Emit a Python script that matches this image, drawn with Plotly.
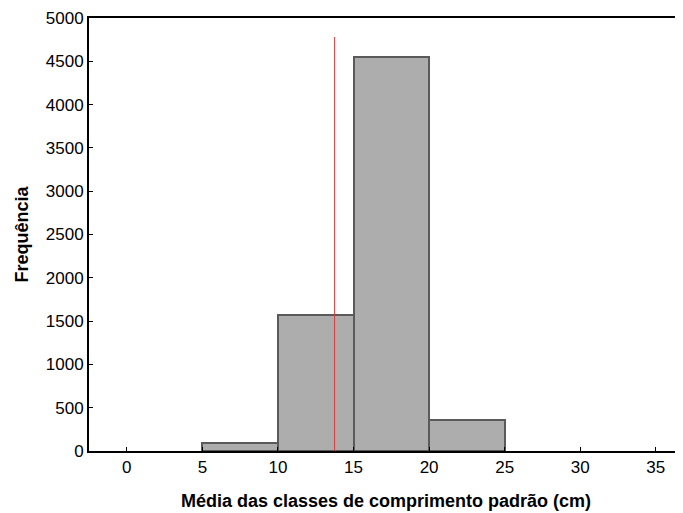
import plotly.graph_objects as go

bin_left = [5, 10, 15, 20]
bin_width = [5, 5, 5, 5]
frequencies = [95, 1575, 4545, 358]
mean_value = 13.75
mean_line_top = 4780
x_ticks = [0, 5, 10, 15, 20, 25, 30, 35]
y_ticks = [0, 500, 1000, 1500, 2000, 2500, 3000, 3500, 4000, 4500, 5000]

centers = [l + w / 2 for l, w in zip(bin_left, bin_width)]

fig = go.Figure()
fig.add_trace(go.Bar(
    x=centers, y=frequencies, width=bin_width,
    marker=dict(color="#adadad", line=dict(color="#5a5a5a", width=2)),
    showlegend=False, hoverinfo="x+y",
))
fig.add_trace(go.Scatter(
    x=[mean_value, mean_value], y=[0, mean_line_top], mode="lines",
    line=dict(color="#e03535", width=1), showlegend=False,
))

font = "Liberation Sans, Arial, sans-serif"
# page body has an 8px default margin, so the figure is offset by (8, 8)
fig.update_layout(
    width=675, height=505,
    margin=dict(l=81, r=0, t=10, b=62),
    paper_bgcolor="white", plot_bgcolor="white",
    font=dict(family=font, size=17, color="black"),
    bargap=0,
    xaxis=dict(
        range=[-2.5, 36.8], tickvals=x_ticks, ticks="inside", ticklen=4,
        tickcolor="black", showline=True, linecolor="black", linewidth=2,
        mirror=True, showgrid=False, zeroline=False, automargin=False,
        tickfont=dict(size=17),
        title=dict(text="<b>Média das classes de comprimento padrão (cm)</b>",
                   font=dict(size=18), standoff=18),
    ),
    yaxis=dict(
        range=[0, 5000], tickvals=y_ticks, ticks="inside", ticklen=4,
        tickcolor="black", showline=True, linecolor="black", linewidth=2,
        mirror=False, showgrid=False, zeroline=False, automargin=False,
        tickfont=dict(size=17),
        title=dict(text="<b>Frequência</b>", font=dict(size=18), standoff=12),
    ),
)

fig.write_html("out.html")
